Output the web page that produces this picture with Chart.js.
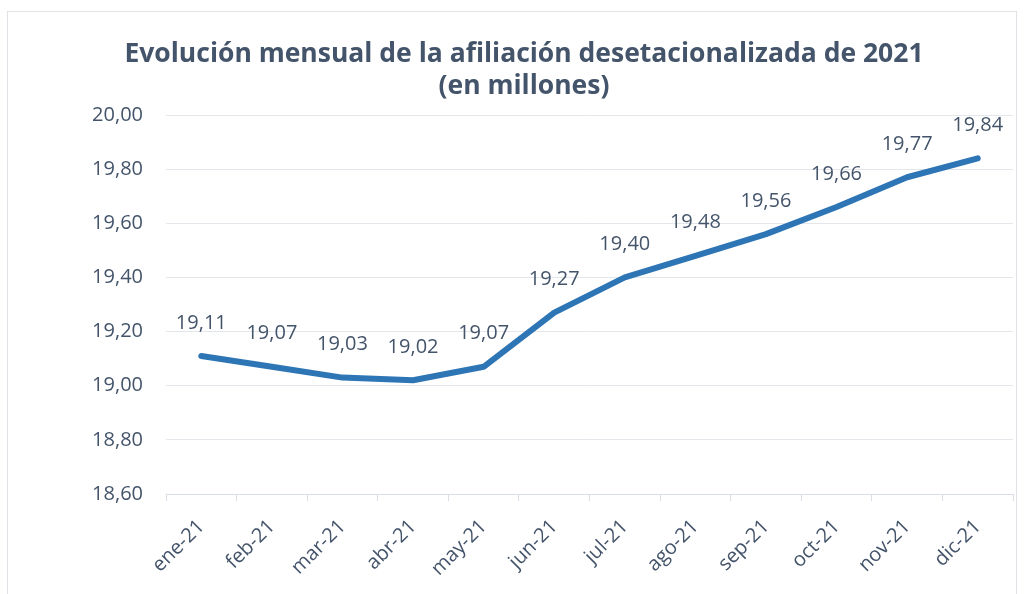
<!DOCTYPE html>
<html>
<head>
<meta charset="utf-8">
<title>Evolución mensual de la afiliación desetacionalizada de 2021</title>
<script src="https://cdn.jsdelivr.net/npm/chart.js@4/dist/chart.umd.min.js"></script>
<style>
  body { margin: 0; background: #fff; }
  #frame { position: absolute; left: 7px; top: 11px; width: 1008px; height: 600px; border: 1px solid #dfe3e8; }
  #chart { position: absolute; left: 0; top: 0; }
</style>
</head>
<body>
<div id="frame"></div>
<canvas id="chart" width="1027" height="594"></canvas>
<script>
// Afiliación desetacionalizada 2021 (millones)
const months = ['ene-21', 'feb-21', 'mar-21', 'abr-21', 'may-21', 'jun-21',
                'jul-21', 'ago-21', 'sep-21', 'oct-21', 'nov-21', 'dic-21'];
const afiliados = [19.11, 19.07, 19.03, 19.02, 19.07, 19.27,
                   19.40, 19.48, 19.56, 19.66, 19.77, 19.84];
const titleLines = ['Evolución mensual de la afiliación desetacionalizada de 2021', '(en millones)'];

const textColor = '#44546a';
const fmt = v => Number(v).toFixed(2).replace('.', ',');

// title drawn by hand so it can sit a bit right of the plot centre, like the original
const titlePlugin = {
  id: 'bigTitle',
  afterDraw(chart) {
    const ctx = chart.ctx;
    ctx.save();
    ctx.font = 'bold 26.5px "Open Sans"';
    ctx.fillStyle = textColor;
    ctx.textAlign = 'center';
    ctx.textBaseline = 'alphabetic';
    ctx.fillText(titleLines[0], 524, 62);
    ctx.fillText(titleLines[1], 524, 94);
    ctx.restore();
  }
};

// simple data labels above each point
const labelPlugin = {
  id: 'pointLabels',
  afterDatasetsDraw(chart) {
    const ctx = chart.ctx;
    const meta = chart.getDatasetMeta(0);
    ctx.save();
    ctx.font = '20px "Open Sans"';
    ctx.fillStyle = textColor;
    ctx.textAlign = 'center';
    ctx.textBaseline = 'middle';
    meta.data.forEach((pt, i) => {
      ctx.fillText(fmt(afiliados[i]), pt.x, pt.y - 33);
    });
    ctx.restore();
  }
};

const ctx = document.getElementById('chart').getContext('2d');
const chart = new Chart(ctx, {
  type: 'line',
  data: {
    labels: months,
    datasets: [{
      data: afiliados,
      borderColor: '#2e75b6',
      borderWidth: 6,
      borderCapStyle: 'round',
      borderJoinStyle: 'round',
      pointRadius: 0,
      tension: 0
    }]
  },
  options: {
    responsive: false,
    animation: false,
    layout: { padding: { left: 0, right: 14, top: 115, bottom: 0 } },
    plugins: {
      legend: { display: false },
      tooltip: { enabled: false },
      title: { display: false }
    },
    scales: {
      x: {
        offset: true,
        grid: { offset: true, drawOnChartArea: false, drawTicks: true, tickLength: 7, color: '#d9dee6' },
        border: { display: true, color: '#d9dee6', width: 1 },
        ticks: {
          color: textColor,
          font: { family: 'Open Sans', size: 20 },
          maxRotation: 45, minRotation: 45,
          padding: 14
        },
        afterFit(scale) { scale.height = 100; }
      },
      y: {
        min: 18.6,
        max: 20.0,
        grid: { color: '#e3e7ec', lineWidth: 1, drawTicks: false },
        border: { display: false },
        ticks: {
          stepSize: 0.2,
          color: textColor,
          font: { family: 'Open Sans', size: 20 },
          padding: 23,
          callback: v => fmt(v)
        },
        afterFit(scale) { scale.width = 166; }
      }
    }
  },
  plugins: [labelPlugin, titlePlugin]
});
</script>
</body>
</html>
